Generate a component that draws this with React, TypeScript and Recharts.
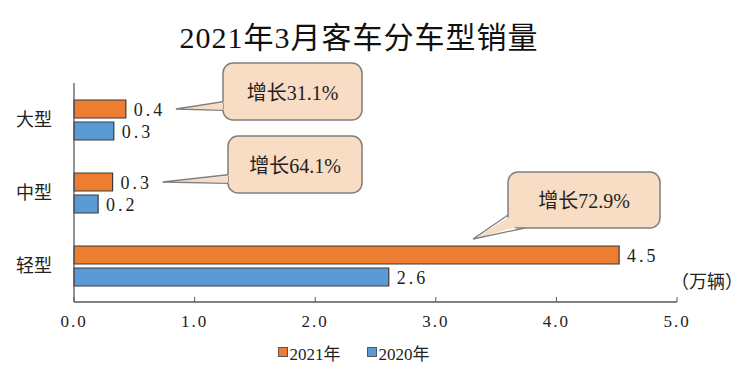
import { BarChart, Bar, XAxis, YAxis, LabelList, Legend } from 'recharts';

const categories = ['大型', '中型', '轻型'];
const sales2021 = [0.43, 0.32, 4.52];
const sales2020 = [0.33, 0.2, 2.61];
const growthNotes = ['增长31.1%', '增长64.1%', '增长72.9%'];
const xTicks = [0, 1, 2, 3, 4, 5];

const ORANGE = '#ED7D31';
const BLUE = '#5B9BD5';
const PEACH = '#F8DCC3';
const SERIF = '"Liberation Serif", "Noto Sans CJK SC", serif';

const data = categories.map((name, i) => ({
  name,
  y2021: sales2021[i],
  y2020: sales2020[i],
}));

// where each speech bubble sits, and which way its pointer goes
const bubbles = [
  { x: 223, y: 63, w: 139, h: 57, side: 'left' },
  { x: 228, y: 136, w: 134, h: 57, side: 'left' },
  { x: 508, y: 172, w: 152, h: 56, side: 'bottom' },
];

function ValueLabel(props: any) {
  const { x, y, width, height, value } = props;
  return (
    <text
      x={x + width + 8}
      y={y + height / 2 + 1}
      dominantBaseline="central"
      fontSize={18}
      letterSpacing={3}
      fontFamily={SERIF}
      fill="#222"
    >
      {Number(value).toFixed(1)}
    </text>
  );
}

function Bubble(props: any) {
  const { x, y, width, height, index } = props;
  const b = bubbles[index];
  const note = growthNotes[index];
  if (!b || !note) return null;
  let tip: [number, number];
  let e1: [number, number];
  let e2: [number, number];
  let i1: [number, number];
  let i2: [number, number];
  if (b.side === 'left') {
    tip = [x + width + 50, y + height / 2];
    e1 = [b.x, b.y + b.h * 0.68];
    e2 = [b.x, b.y + b.h * 0.83];
    i1 = [b.x + 3, e1[1] + 1];
    i2 = [b.x + 3, e2[1] - 1];
  } else {
    tip = [b.x - 35, y - 7];
    e1 = [b.x, b.y + b.h - 13];
    e2 = [b.x + 17, b.y + b.h];
    i1 = [b.x + 3, b.y + b.h - 12];
    i2 = [b.x + 16, b.y + b.h - 3];
  }
  const pts = (a: number[][]) => a.map((p) => p.join(',')).join(' ');
  return (
    <g>
      <rect x={b.x} y={b.y} width={b.w} height={b.h} rx={10} ry={10} fill={PEACH} stroke="#7f7f7f" strokeWidth={1.5} />
      <polygon points={pts([i1, tip, i2, e2, e1])} fill={PEACH} stroke="none" />
      <polyline points={pts([e1, tip, e2])} fill="none" stroke="#7f7f7f" strokeWidth={1.3} />
      <text
        x={b.x + b.w / 2}
        y={b.y + b.h / 2 + 1}
        textAnchor="middle"
        dominantBaseline="central"
        fontSize={20}
        fontFamily={SERIF}
        fill="#222"
      >
        {note}
      </text>
    </g>
  );
}

function CategoryTick(props: any) {
  const { x, y, payload } = props;
  return (
    <text x={x - 14} y={y} textAnchor="end" dominantBaseline="central" fontSize={18} fontFamily={SERIF} fill="#222">
      {payload.value}
    </text>
  );
}

function UnitLabel(props: any) {
  const { viewBox } = props;
  return (
    <text x={viewBox.x + viewBox.width + 30} y={viewBox.y - 20} textAnchor="middle" dominantBaseline="central" fontSize={18} fontFamily={SERIF} fill="#222">
      （万辆）
    </text>
  );
}

function LegendBox() {
  const items = [
    { label: '2021年', color: ORANGE },
    { label: '2020年', color: BLUE },
  ];
  return (
    <div style={{ display: 'flex', justifyContent: 'center', height: 22, alignItems: 'center', paddingLeft: 30, fontFamily: SERIF, fontSize: 17, color: '#222' }}>
      {items.map((it) => (
        <span key={it.label} style={{ display: 'inline-flex', alignItems: 'center', margin: '0 13px' }}>
          <span style={{ width: 8, height: 8, background: it.color, border: '1px solid #555', marginRight: 2 }} />
          {it.label}
        </span>
      ))}
    </div>
  );
}

export default function App() {
  return (
    <div style={{ position: 'absolute', left: 0, top: 0, width: 750, height: 377, background: '#fff' }}>
      <div
        style={{
          position: 'absolute',
          left: 0,
          top: 22,
          width: 718,
          textAlign: 'center',
          fontFamily: SERIF,
          fontSize: 30,
          lineHeight: '32px',
          color: '#111',
          letterSpacing: 1,
        }}
      >
        2021年3月客车分车型销量
      </div>
      <BarChart
        width={750}
        height={377}
        data={data}
        layout="vertical"
        margin={{ top: 83, right: 73, left: 0, bottom: 14 }}
        barSize={18}
        barGap={4}
        barCategoryGap={0}
      >
        <XAxis
          type="number"
          domain={[0, 5]}
          ticks={xTicks}
          interval={0}
          height={39}
          tickSize={-5}
          tickMargin={18}
          tickFormatter={(v: number) => v.toFixed(1)}
          tick={{ fontSize: 17, fontFamily: SERIF, fill: '#222', letterSpacing: 2 }}
          axisLine={{ stroke: '#595959', strokeWidth: 1.3 }}
          tickLine={{ stroke: '#595959' }}
          label={<UnitLabel />}
        />
        <YAxis
          type="category"
          dataKey="name"
          width={74}
          tick={<CategoryTick />}
          tickLine={false}
          axisLine={{ stroke: '#595959', strokeWidth: 1.3 }}
        />
        <Legend verticalAlign="bottom" content={<LegendBox />} wrapperStyle={{ height: 22 }} />
        <Bar dataKey="y2021" name="2021年" fill={ORANGE} stroke="#3a3a3a" strokeWidth={1.2} isAnimationActive={false}>
          <LabelList dataKey="y2021" content={<ValueLabel />} />
          <LabelList dataKey="y2021" content={<Bubble />} />
        </Bar>
        <Bar dataKey="y2020" name="2020年" fill={BLUE} stroke="#3a3a3a" strokeWidth={1.2} isAnimationActive={false}>
          <LabelList dataKey="y2020" content={<ValueLabel />} />
        </Bar>
      </BarChart>
    </div>
  );
}
